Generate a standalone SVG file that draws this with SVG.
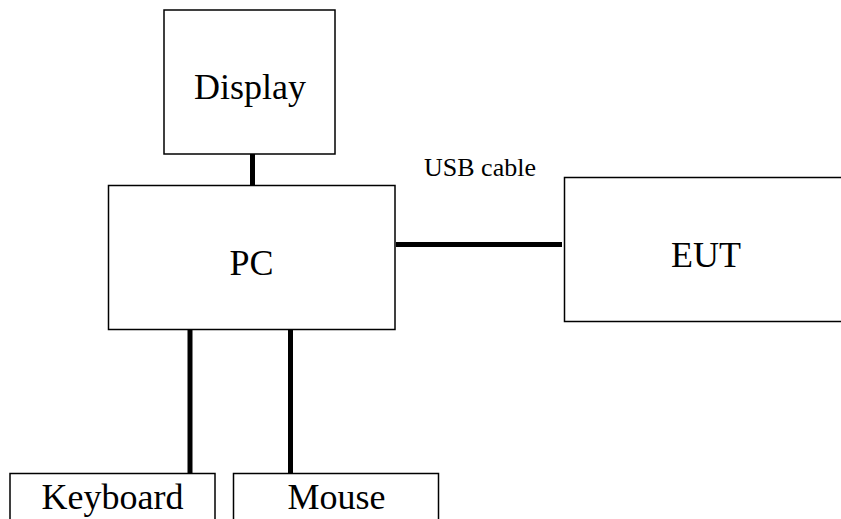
<svg xmlns="http://www.w3.org/2000/svg" width="841" height="519" viewBox="0 0 841 519">
<style>
.box{fill:#fff;stroke:#000;stroke-width:1.5}
text{font-family:'Liberation Serif','Times New Roman','DejaVu Serif',serif;fill:#000;text-anchor:middle}
.lbl{font-size:36px}
.small{font-size:26px}
.wire{stroke:#000;stroke-width:5;fill:none}
</style>
<rect width="841" height="519" fill="#fff"/>
<g id="connectors">
<line class="wire" x1="252.5" y1="154" x2="252.5" y2="185"/>
<line class="wire" x1="396" y1="244.5" x2="562" y2="244.5"/>
<line class="wire" x1="190" y1="329" x2="190" y2="473"/>
<line class="wire" x1="290.5" y1="329" x2="290.5" y2="473"/>
</g>
<g id="display">
<rect class="box" x="164" y="10" width="171" height="144"/>
<text class="lbl" x="250" y="99" font-family="Liberation Serif, serif">Display</text>
</g>
<g id="pc">
<rect class="box" x="108.5" y="185.5" width="286.5" height="144"/>
<text class="lbl" x="251.5" y="275">PC</text>
</g>
<g id="eut">
<rect class="box" x="564.5" y="177.5" width="290" height="144"/>
<text class="lbl" x="706" y="267">EUT</text>
</g>
<g id="usb-label">
<text class="small" x="480" y="176">USB cable</text>
</g>
<g id="keyboard">
<rect class="box" x="10" y="473.5" width="205" height="60"/>
<text class="lbl" x="112.5" y="509">Keyboard</text>
</g>
<g id="mouse">
<rect class="box" x="233.5" y="473.5" width="205" height="60"/>
<text class="lbl" x="336.5" y="509">Mouse</text>
</g>
</svg>
